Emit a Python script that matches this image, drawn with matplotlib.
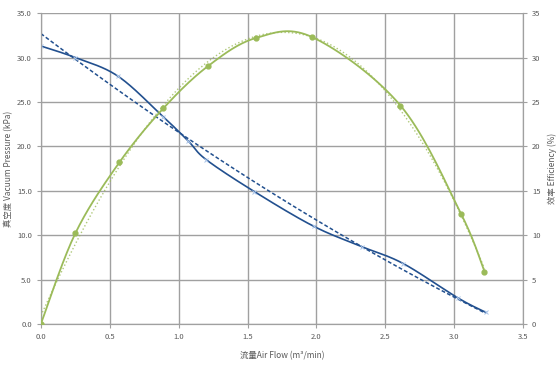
import numpy as np
import matplotlib
matplotlib.use('Agg')
import matplotlib.pyplot as plt

plt.rcParams['font.family'] = ['Noto Sans CJK SC', 'DejaVu Sans']

# 真空度数据 (kPa)
flow_p = [0.0, 0.25, 0.56, 0.89, 1.07, 1.20, 1.55, 1.98, 2.33, 2.63, 3.03, 3.23]
pressure = [31.3, 30.0, 27.9, 23.3, 20.6, 18.5, 14.9, 11.0, 8.7, 6.8, 2.9, 1.3]
# 真空度二次趋势线系数
trend_coef = [0.605, -11.71, 32.7]

# 效率数据 (%)
flow_e = [0.0, 0.25, 0.57, 0.89, 1.21, 1.56, 1.97, 2.61, 3.05, 3.22]
efficiency = [0.0, 10.2, 18.2, 24.3, 29.0, 32.2, 32.3, 24.6, 12.4, 5.9]

x_ticks = [0.0, 0.5, 1.0, 1.5, 2.0, 2.5, 3.0, 3.5]
y_ticks = [0, 5, 10, 15, 20, 25, 30, 35]

blue = '#22508f'
blue_mk = '#a9c4e8'
green = '#9bbb59'
grid_c = '#a0a0a0'
txt_c = '#595959'


def smooth(x, y, n=20):
    # Excel风格平滑线 (Catmull-Rom)
    x = np.asarray(x, float)
    y = np.asarray(y, float)
    px = np.concatenate([[x[0]], x, [x[-1]]])
    py = np.concatenate([[y[0]], y, [y[-1]]])
    xs, ys = [], []
    t = np.linspace(0, 1, n)
    for i in range(1, len(px) - 2):
        for arr, out in ((px, xs), (py, ys)):
            p0, p1, p2, p3 = arr[i - 1], arr[i], arr[i + 1], arr[i + 2]
            out.extend(0.5 * (2 * p1 + (-p0 + p2) * t
                              + (2 * p0 - 5 * p1 + 4 * p2 - p3) * t ** 2
                              + (-p0 + 3 * p1 - 3 * p2 + p3) * t ** 3))
    return np.array(xs), np.array(ys)


fig = plt.figure(figsize=(5.6, 3.66), dpi=100)
ax1 = fig.add_axes([0.073, 0.115, 0.861, 0.849])
ax2 = ax1.twinx()

# 真空度曲线
sx, sy = smooth(flow_p, pressure)
ax1.plot(sx, sy, color=blue, lw=1.2, zorder=3)
ax1.plot(flow_p, pressure, 'x', color=blue_mk, ms=3, mew=0.7, zorder=4)
lx = np.linspace(flow_p[0], flow_p[-1], 100)
ax1.plot(lx, np.polyval(trend_coef, lx), '--', color=blue, lw=1.1, dashes=(2.5, 1.5), zorder=3)

# 效率曲线
ex, ey = smooth(flow_e, efficiency)
ax2.plot(ex, ey, color=green, lw=1.3, zorder=3)
ax2.plot(flow_e, efficiency, 'o', color=green, ms=3.5, zorder=4)
c = np.polyfit(flow_e, efficiency, 3)
qx = np.linspace(flow_e[0], flow_e[-1], 200)
ax2.plot(qx, np.polyval(c, qx), ':', color=green, lw=1.0, alpha=0.8, zorder=3)

for ax in (ax1, ax2):
    ax.set_xlim(0, 3.5)
    ax.set_ylim(0, 35)
    for s in ax.spines.values():
        s.set_color(grid_c)
    ax.spines['top'].set_visible(False)
    ax.tick_params(colors=grid_c, labelcolor=txt_c, labelsize=5.5, length=3, width=0.8)

ax1.set_xticks(x_ticks)
ax1.set_xticklabels([f'{v:.1f}' for v in x_ticks])
ax1.set_yticks(y_ticks)
ax1.set_yticklabels([f'{v:.1f}' for v in y_ticks])
ax2.set_yticks(y_ticks)
ax2.set_yticklabels([str(v) for v in y_ticks])
ax1.grid(True, color=grid_c, lw=1.0)
ax1.set_axisbelow(True)

ax1.set_xlabel('流量Air Flow (m³/min)', fontsize=6, color=txt_c, labelpad=7)
ax1.set_ylabel('真空度 Vacuum Pressure (kPa)', fontsize=6, color=txt_c, labelpad=3)
ax2.set_ylabel('效率 Efficiency (%)', fontsize=6, color=txt_c, labelpad=5)

fig.savefig('out.png', dpi=100)
